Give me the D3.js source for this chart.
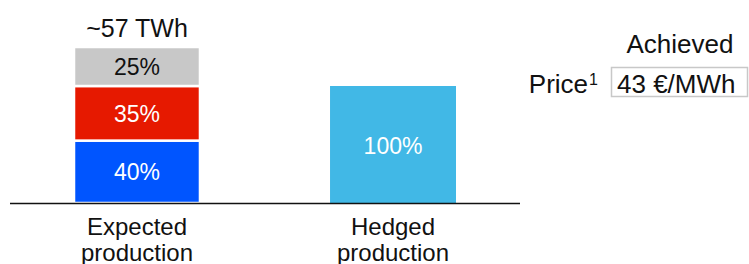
<!DOCTYPE html>
<html>
<head>
<meta charset="utf-8">
<script src="https://cdn.jsdelivr.net/npm/d3@7"></script>
<style>
  html, body { margin: 0; padding: 0; background: #fff; }
  svg { display: block; font-family: "Liberation Sans", Arial, sans-serif; }
</style>
</head>
<body>
<svg id="chart" width="749" height="264"></svg>
<script>
// ── Data ─────────────────────────────────────────────────────────
const categories     = ["Expected production", "Hedged production"];
const totalTWh       = 57;
const expectedShares = [40, 35, 25];            // % of expected, bottom → top
const expectedColors = ["#0055FF", "#E61900", "#C8C8C8"];
const expectedText   = ["#fff", "#fff", "#111"];
const hedgedShare    = 75;                      // hedged volume as % of expected
const hedgedLabel    = "100%";
const totalLabel     = "~57 TWh";
const priceLabel     = "43 €/MWh";

// ── Scales ───────────────────────────────────────────────────────
const svg = d3.select("#chart");
const baseY = 203;

const x = d3.scaleBand()
  .domain(categories)
  .range([10, 520])
  .paddingInner(0.508)
  .paddingOuter(0.25);

const y = d3.scaleLinear().domain([0, totalTWh]).range([baseY, 47]);

// ── Expected stack ───────────────────────────────────────────────
let acc = 0;
const segs = expectedShares.map((s, i) => {
  const v = totalTWh * s / 100;
  const seg = { y0: acc, y1: acc + v, share: s, color: expectedColors[i], tc: expectedText[i] };
  acc += v;
  return seg;
});

const gExp = svg.append("g");
gExp.selectAll("rect").data(segs).join("rect")
  .attr("x", x(categories[0]))
  .attr("width", x.bandwidth())
  .attr("y", d => y(d.y1))
  .attr("height", d => y(d.y0) - y(d.y1))
  .attr("fill", d => d.color)
  .attr("stroke", "#fff")
  .attr("stroke-width", 2.5);

gExp.selectAll("text").data(segs).join("text")
  .attr("x", x(categories[0]) + x.bandwidth() / 2)
  .attr("y", d => (y(d.y0) + y(d.y1)) / 2 + 8.5)
  .attr("text-anchor", "middle")
  .attr("font-size", 23)
  .attr("fill", d => d.tc)
  .text(d => d.share + "%");

svg.append("text")
  .attr("x", x(categories[0]) + x.bandwidth() / 2)
  .attr("y", y(totalTWh) - 10.5)
  .attr("text-anchor", "middle")
  .attr("font-size", 25)
  .attr("fill", "#111")
  .text(totalLabel);

// ── Hedged bar ───────────────────────────────────────────────────
const hv = totalTWh * hedgedShare / 100;
svg.append("rect")
  .attr("x", x(categories[1]))
  .attr("width", x.bandwidth())
  .attr("y", y(hv))
  .attr("height", y(0) - y(hv))
  .attr("fill", "#41B8E6");

svg.append("text")
  .attr("x", x(categories[1]) + x.bandwidth() / 2)
  .attr("y", (y(0) + y(hv)) / 2 + 9)
  .attr("text-anchor", "middle")
  .attr("font-size", 23)
  .attr("fill", "#fff")
  .text(hedgedLabel);

// ── Axis ─────────────────────────────────────────────────────────
svg.append("line")
  .attr("x1", 10).attr("x2", 520)
  .attr("y1", baseY + 0.5).attr("y2", baseY + 0.5)
  .attr("stroke", "#111").attr("stroke-width", 1.5);

svg.append("g").selectAll("text").data(categories).join("text")
  .attr("x", d => x(d) + x.bandwidth() / 2)
  .attr("y", 235)
  .attr("text-anchor", "middle")
  .attr("font-size", 24)
  .attr("fill", "#111")
  .each(function(d) {
    const el = d3.select(this);
    d.split(" ").forEach((w, i) => {
      el.append("tspan")
        .attr("x", x(d) + x.bandwidth() / 2)
        .attr("dy", i === 0 ? 0 : 26)
        .text(w);
    });
  });

// ── Price box ────────────────────────────────────────────────────
svg.append("text")
  .attr("x", 680).attr("y", 52.5)
  .attr("text-anchor", "middle")
  .attr("font-size", 26).attr("fill", "#111")
  .text("Achieved");

const pt = svg.append("text")
  .attr("x", 598).attr("y", 92.5)
  .attr("text-anchor", "end")
  .attr("font-size", 26).attr("fill", "#111");
pt.append("tspan").text("Price");
pt.append("tspan").attr("font-size", 16).attr("dy", -8).attr("dx", 1).text("1");

svg.append("rect")
  .attr("x", 611.5).attr("y", 67.5)
  .attr("width", 136).attr("height", 29)
  .attr("fill", "none")
  .attr("stroke", "#c8c8c8").attr("stroke-width", 1.5);

svg.append("text")
  .attr("x", 617).attr("y", 92.5)
  .attr("font-size", 26).attr("fill", "#111")
  .text(priceLabel);
</script>
</body>
</html>
